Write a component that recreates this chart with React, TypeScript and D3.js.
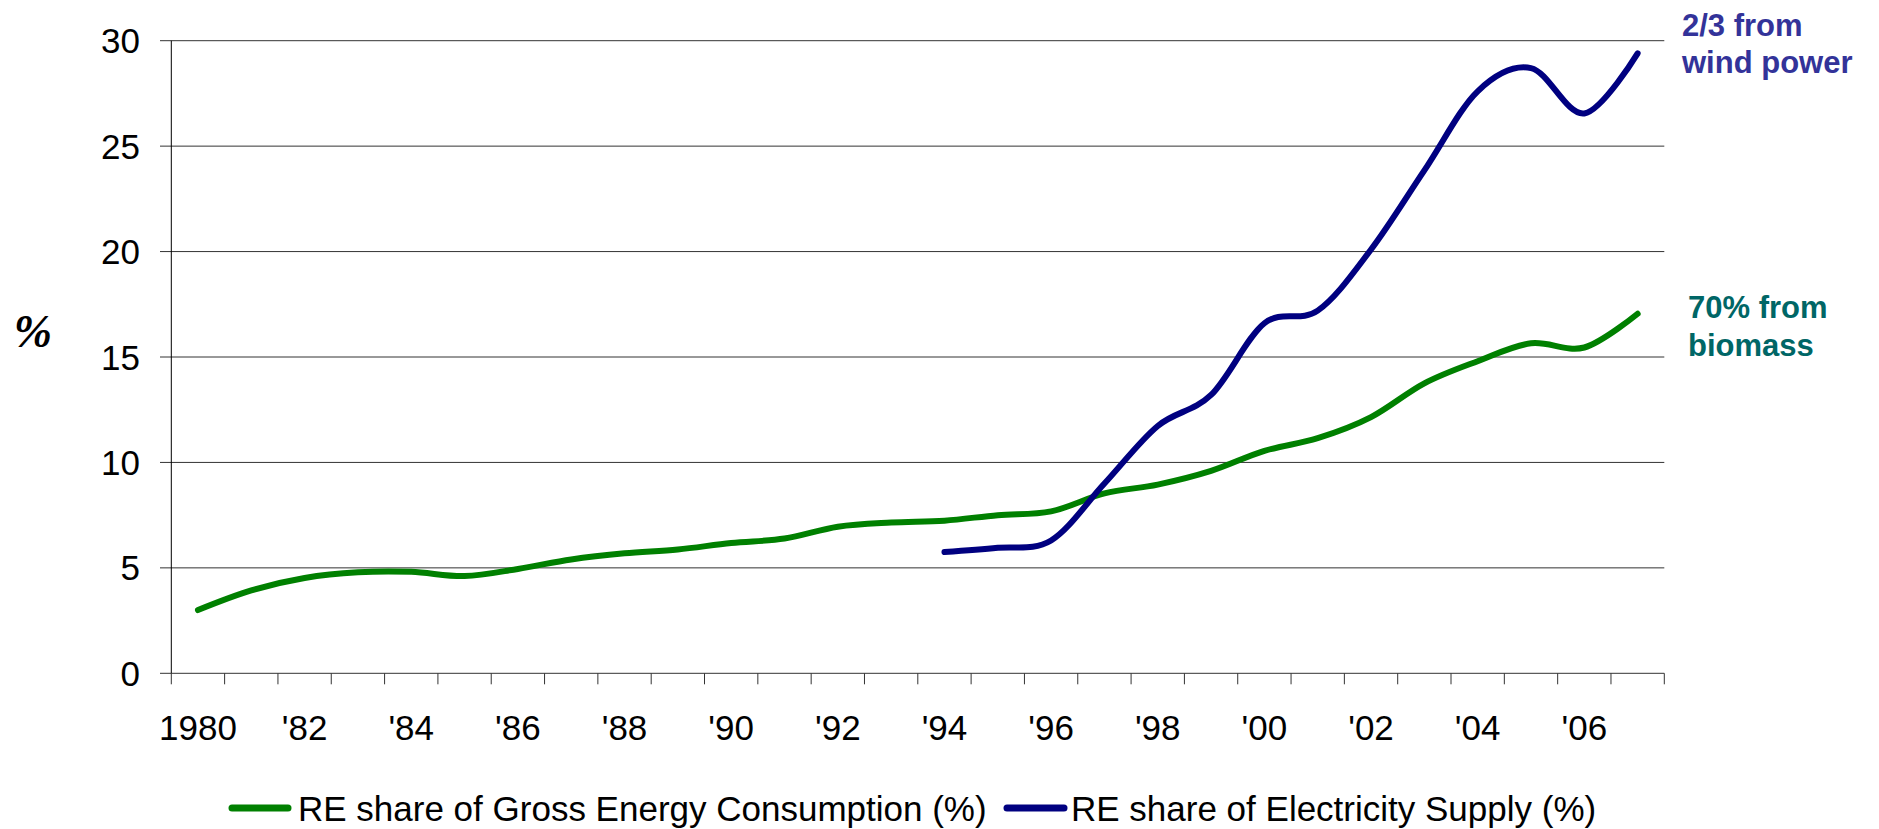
import React from "react";
import * as d3 from "d3";

const years = [1980, 1981, 1982, 1983, 1984, 1985, 1986, 1987, 1988, 1989, 1990, 1991, 1992, 1993, 1994, 1995, 1996, 1997, 1998, 1999, 2000, 2001, 2002, 2003, 2004, 2005, 2006, 2007];
const xTickLabels = ["1980", "'82", "'84", "'86", "'88", "'90", "'92", "'94", "'96", "'98", "'00", "'02", "'04", "'06"];
const yTicks = [0, 5, 10, 15, 20, 25, 30];
const grossEnergy = [3.0, 3.93, 4.52, 4.79, 4.81, 4.61, 4.95, 5.4, 5.69, 5.87, 6.18, 6.39, 6.95, 7.15, 7.24, 7.5, 7.68, 8.53, 8.95, 9.6, 10.55, 11.15, 12.15, 13.75, 14.8, 15.65, 15.45, 17.05];
const electricity: (number | null)[] = [null, null, null, null, null, null, null, null, null, null, null, null, null, null, 5.75, 5.95, 6.3, 9.0, 11.73, 13.2, 16.6, 17.2, 20.1, 23.85, 27.6, 28.7, 26.55, 29.4];
const seriesNames = ["RE share of Gross Energy Consumption (%)", "RE share of Electricity Supply (%)"];
const seriesColors = ["#008000", "#000080"];

const W = 1879;
const H = 829;
const FONT = "'Liberation Sans', Arial, sans-serif";

export default function App() {
  const x = d3.scaleBand<number>().domain(years).range([171.3, 1664.3]).padding(0);
  const y = d3.scaleLinear().domain([0, 30]).range([673.3, 40.7]);
  const cx = (yr: number) => (x(yr) as number) + x.bandwidth() / 2;

  const line = d3
    .line<[number, number | null]>()
    .defined((d) => d[1] != null)
    .x((d) => cx(d[0]))
    .y((d) => y(d[1] as number))
    .curve(d3.curveCardinal.tension(0));

  const greenPath = line(years.map((yr, i) => [yr, grossEnergy[i]])) || "";
  const bluePath = line(years.map((yr, i) => [yr, electricity[i]])) || "";

  const boundaries = years.map((yr) => x(yr) as number).concat([x.range()[1]]);
  const x0 = x.range()[0];
  const x1 = x.range()[1];

  return (
    <svg width={W} height={H} style={{ position: "absolute", left: 0, top: 0, background: "#fff" }}>
      <rect x={0} y={0} width={W} height={H} fill="#fff" />
      {yTicks.map((t) => (
        <line key={"g" + t} x1={160} x2={x1} y1={y(t)} y2={y(t)} stroke="#333" strokeWidth={1} />
      ))}
      <line x1={x0} x2={x0} y1={y(30)} y2={y(0)} stroke="#000" strokeWidth={1} />
      {boundaries.map((b, i) => (
        <line key={"t" + i} x1={b} x2={b} y1={y(0)} y2={y(0) + 11} stroke="#333" strokeWidth={1} />
      ))}
      {yTicks.map((t) => (
        <text key={"yl" + t} x={140} y={y(t) + 12.5} textAnchor="end" fontFamily={FONT} fontSize={35} fill="#000">
          {t}
        </text>
      ))}
      {xTickLabels.map((lab, i) => (
        <text key={"xl" + i} x={cx(years[i * 2])} y={740} textAnchor="middle" fontFamily={FONT} fontSize={35} fill="#000">
          {lab}
        </text>
      ))}
      <text x={33} y={347} textAnchor="middle" fontFamily="'Liberation Serif', 'Times New Roman', serif" fontStyle="italic" fontWeight="bold" fontSize={46} fill="#000">
        %
      </text>
      <path d={greenPath} fill="none" stroke={seriesColors[0]} strokeWidth={6} strokeLinejoin="round" strokeLinecap="round" />
      <path d={bluePath} fill="none" stroke={seriesColors[1]} strokeWidth={6} strokeLinejoin="round" strokeLinecap="round" />
      <text fontFamily={FONT} fontWeight="bold" fontSize={31} fill="#333399">
        <tspan x={1682} y={36}>2/3 from</tspan>
        <tspan x={1682} y={72.7}>wind power</tspan>
      </text>
      <text fontFamily={FONT} fontWeight="bold" fontSize={31} fill="#006666">
        <tspan x={1688} y={318}>70% from</tspan>
        <tspan x={1688} y={356}>biomass</tspan>
      </text>
      <line x1={232} x2={288} y1={808} y2={808} stroke={seriesColors[0]} strokeWidth={7} strokeLinecap="round" />
      <text x={298} y={820.5} fontFamily={FONT} fontSize={35} fill="#000">
        {seriesNames[0]}
      </text>
      <line x1={1007} x2={1064} y1={808} y2={808} stroke={seriesColors[1]} strokeWidth={7} strokeLinecap="round" />
      <text x={1071} y={820.5} fontFamily={FONT} fontSize={35} fill="#000">
        {seriesNames[1]}
      </text>
    </svg>
  );
}
